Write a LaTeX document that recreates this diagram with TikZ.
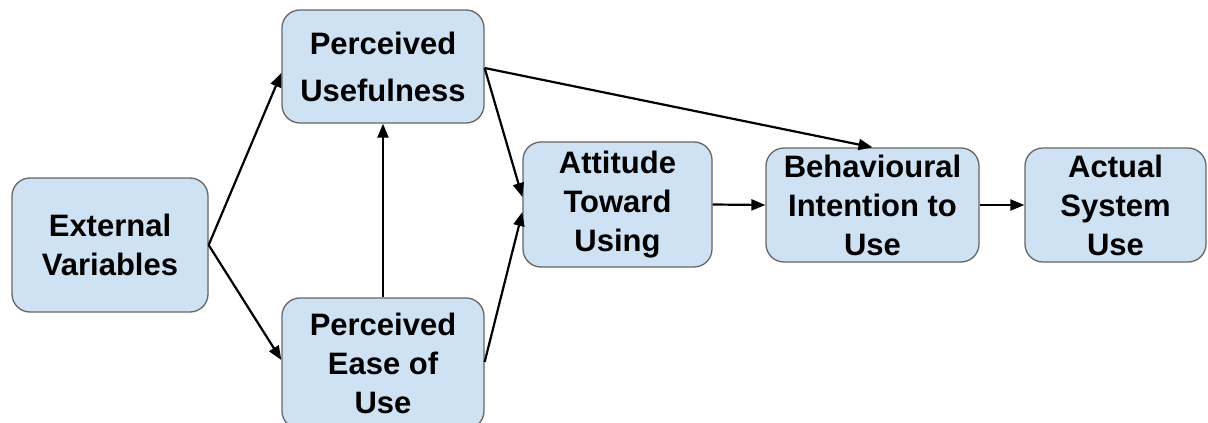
\documentclass[tikz,border=0pt]{standalone}
\usepackage{fontspec}
\setmainfont{Liberation Sans}
\usetikzlibrary{arrows.meta,calc}
\definecolor{boxfill}{HTML}{CFE2F3}
\definecolor{boxline}{HTML}{666666}
\begin{document}
\begin{tikzpicture}[x=1pt,y=-1pt,
  tambox/.style={draw=boxline,line width=1.3pt,fill=boxfill,rounded corners=18pt,
    inner sep=0pt,align=center,
    font=\fontsize{31}{39}\selectfont\bfseries},
  link/.style={line width=2.2pt,-{Triangle[length=14pt,width=11pt]}}]
  \useasboundingbox (0,0) rectangle (1208,423);
  \clip (0,0) rectangle (1208,423);
  \fill[white] (0,0) rectangle (1208,423);

  % model constructs
  \node[tambox,minimum width=196pt,minimum height=134pt] (ext) at (110,245) {External\\Variables};
  \node[tambox,minimum width=202pt,minimum height=113pt] (pu) at (383,66.5) {Perceived\\[8pt]Usefulness};
  \node[tambox,minimum width=202pt,minimum height=131pt] (peou) at (383,363.5) {Perceived\\Ease of\\Use};
  \node[tambox,minimum width=189pt,minimum height=125pt] (att) at (617.5,204.5) {Attitude\\Toward\\Using};
  \node[tambox,minimum width=213pt,minimum height=114pt] (bi) at (872.5,205) {Behavioural\\Intention to\\Use};
  \node[tambox,minimum width=181pt,minimum height=114pt] (asu) at (1115.5,205) {Actual\\System\\Use};

  % causal paths
  \draw[link] (ext.east) -- ($(pu.west)+(0,6.5)$);
  \draw[link] (ext.east) -- ($(peou.west)+(0,-3.5)$);
  \draw[link] (peou.north) -- (pu.south);
  \draw[link] ($(pu.east)+(0,1.5)$) -- ($(att.west)+(0,-7.5)$);
  \draw[link] ($(peou.east)+(0,-1.5)$) -- ($(att.west)+(0,7.5)$);
  \draw[link] ($(pu.east)+(0,1.5)$) -- (bi.north);
  \draw[link] (att.east) -- (bi.west);
  \draw[link] (bi.east) -- (asu.west);
\end{tikzpicture}
\end{document}
